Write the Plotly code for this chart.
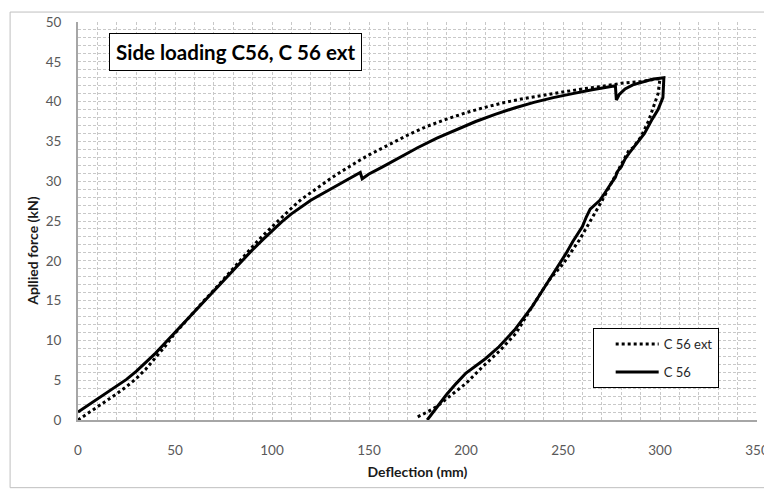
import plotly.graph_objects as go

# ---- data ----
c56_x = [0, 5, 10, 15, 20, 25, 30, 35, 40, 45, 50, 55, 60, 65, 70, 75, 80, 85, 90, 95, 100,
         105, 110, 115, 120, 125, 130, 135, 140, 145.5, 146.5, 150, 157, 165, 175, 185, 195, 205,
         215, 225, 235, 245, 255, 265, 277, 277.5, 279, 282, 286, 290, 296, 302,
         301.5, 299, 296, 292, 288, 284, 282, 280, 278, 277, 275, 273, 271, 269, 266, 264, 262,
         260, 255, 251.5, 245, 240, 234, 225, 217, 210, 200, 195, 190, 185, 180]
c56_y = [1.0, 1.8, 2.6, 3.4, 4.2, 5.1, 6.1, 7.2, 8.4, 9.7, 11.0, 12.3, 13.6, 15.0, 16.3, 17.6, 18.9, 20.2, 21.4, 22.6, 23.8,
         24.9, 25.9, 26.8, 27.6, 28.3, 29.0, 29.7, 30.3, 31.1, 30.3, 30.9, 31.8, 32.9, 34.2, 35.4, 36.5, 37.5,
         38.4, 39.2, 39.9, 40.5, 41.0, 41.5, 42.0, 40.2, 40.9, 41.6, 42.1, 42.4, 42.8, 43.0,
         40.5, 39.0, 37.8, 36.0, 34.8, 33.5, 32.8, 31.8, 31.2, 30.5, 29.8, 29.0, 28.3, 27.6, 27.0, 26.5, 25.5,
         24.3, 22.4, 20.9, 18.4, 16.5, 14.2, 11.3, 9.2, 7.7, 5.9, 4.6, 3.2, 1.6, 0.0]

ext_x = [0, 5, 10, 15, 20, 25, 30, 35, 40, 45, 50, 55, 60, 65, 70, 75, 80, 85, 90, 95, 100,
         105, 110, 115, 120, 125, 130, 135, 140, 145, 150, 160, 170, 180, 190, 200, 210, 220, 230,
         240, 250, 260, 270, 280, 290, 300,
         299, 297, 294, 290, 286, 284, 280, 275, 270, 265.2, 258.4, 250, 242.9, 235, 225.8, 217,
         208.6, 200, 191.5, 185, 180, 174.3]
ext_y = [0, 0.8, 1.6, 2.5, 3.3, 4.2, 5.2, 6.4, 7.8, 9.3, 10.9, 12.3, 13.7, 15.0, 16.3, 17.7, 19.1, 20.5, 21.8, 23.1, 24.3,
         25.5, 26.6, 27.7, 28.6, 29.5, 30.3, 31.1, 31.9, 32.6, 33.3, 34.6, 35.8, 36.9, 37.8, 38.6, 39.3, 39.9, 40.4,
         40.8, 41.2, 41.6, 41.9, 42.3, 42.5, 42.9,
         41.0, 39.5, 37.5, 35.5, 34.2, 33.9, 32.0, 29.8, 27.5, 25.5, 22.6, 19.6, 17.6, 14.6, 10.9, 8.6,
         6.7, 4.6, 2.9, 1.7, 1.0, 0.3]

series_names = ["C 56 ext", "C 56"]
chart_title = "Side loading C56, C 56 ext"
x_title = "Deflection (mm)"
y_title = "Apllied force (kN)"

FONT = "Lato"
TICK_COLOR = "#595959"
TITLE_COLOR = "#1a1a1a"
GRID = "#C8C8C8"
GRID_DASH = "3px,2px"

fig = go.Figure()
fig.add_trace(go.Scatter(x=ext_x, y=ext_y, mode="lines", name=series_names[0], legendgroup="a",
                         line=dict(color="black", width=3, dash="3px,3px")))
fig.add_trace(go.Scatter(x=c56_x, y=c56_y, mode="lines", name=series_names[1], legendgroup="b",
                         line=dict(color="black", width=3)))

# the page body has an 8px margin, so the figure is sized to fit the 772x495 window
fig.update_layout(
    width=764, height=487,
    margin=dict(l=70, r=15, t=14, b=75),
    paper_bgcolor="white", plot_bgcolor="white",
    font=dict(family=FONT, color=TICK_COLOR, size=13),
    showlegend=True,
    legend=dict(x=0.758, y=0.231, xanchor="left", yanchor="top",
                bgcolor="white", bordercolor="black", borderwidth=1,
                font=dict(family=FONT, size=13, color="#262626"),
                tracegroupgap=8, indentation=17, itemwidth=43),
)

fig.update_xaxes(range=[0, 350], dtick=50, tick0=0, automargin=False,
                 showgrid=True, gridcolor=GRID, griddash=GRID_DASH, gridwidth=1,
                 minor=dict(dtick=10, showgrid=True, gridcolor=GRID, griddash=GRID_DASH, gridwidth=1),
                 showline=True, linecolor="#A6A6A6", linewidth=2,
                 ticks="", ticklabelstandoff=17, zeroline=False,
                 tickfont=dict(family=FONT, size=13.5, color=TICK_COLOR),
                 title=dict(text="<b>" + x_title + "</b>", font=dict(family=FONT, size=14, color=TITLE_COLOR),
                            standoff=10))
fig.update_yaxes(range=[0, 50], dtick=5, tick0=0, automargin=False,
                 showgrid=True, gridcolor=GRID, griddash=GRID_DASH, gridwidth=1,
                 minor=dict(dtick=1, showgrid=True, gridcolor=GRID, griddash=GRID_DASH, gridwidth=1),
                 showline=True, linecolor="#A6A6A6", linewidth=2,
                 ticks="", ticklabelstandoff=12, zeroline=False,
                 tickfont=dict(family=FONT, size=13.5, color=TICK_COLOR))

# y-axis title (sits below the axis centre in the reference)
fig.add_annotation(text="<b>" + y_title + "</b>", xref="paper", yref="paper", x=-0.0663, y=0.425,
                   xanchor="center", yanchor="middle", textangle=-90, showarrow=False,
                   font=dict(family=FONT, size=14, color=TITLE_COLOR))

fig.add_annotation(text="<b>" + chart_title + "</b>", xref="paper", yref="paper", x=0.232, y=0.925,
                   xanchor="center", yanchor="middle", showarrow=False,
                   font=dict(family=FONT, size=20.5, color="black"),
                   bgcolor="white", bordercolor="black", borderwidth=1, borderpad=6)

# outer chart border
fig.add_shape(type="rect", xref="paper", yref="paper", x0=-0.1, x1=1.015, y0=-0.17, y1=1.025,
              line=dict(color="#BFBFBF", width=1), layer="below")

fig.write_html("out.html")
